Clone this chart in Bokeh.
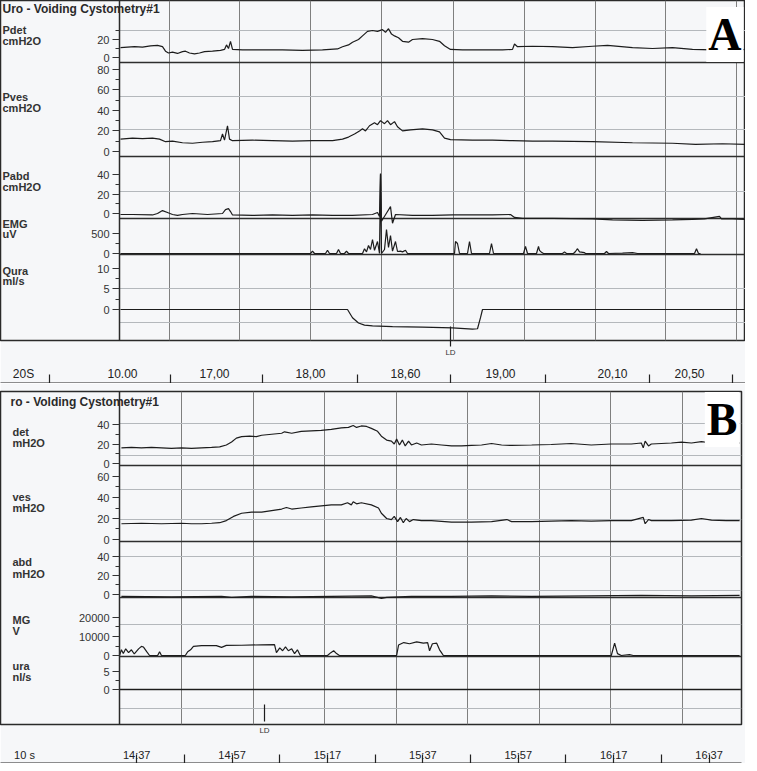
from bokeh.plotting import figure
from bokeh.models import Range1d, LinearAxis, FixedTicker, Label
from bokeh.layouts import column
from bokeh.embed import file_html
from bokeh.resources import INLINE

SANS = "Liberation Sans"
SERIF = "Liberation Serif"
BG = "#f6f7f9"
INK = "#1c1c1c"

# ======================= Panel A data =======================
a_time_ticks = [0.6, 19.0, 38.2, 57.2, 76.2, 98.6, 114.0]
a_time_labels = ["10.00", "17,00", "18,00", "18,60", "19,00", "20,10", "20,50"]
a_bottom_marks = [10.2, 28.6, 47.6, 66.2, 85.2, 106.0, 122.6]
a_grid_times = [10.0, 24.0, 38.2, 52.4, 66.8, 81.0, 95.2, 109.2, 123.4]
a_ld_time = 66.2

a_pdet = [(0.2, 11), (1.6, 11.5), (3.0, 12), (4.6, 11.5), (6.2, 13), (7.6, 13.5), (8.6, 12), (9.2, 7),
          (9.8, 5), (10.6, 6), (11.6, 4.5), (12.6, 6.5), (13.2, 7), (14.0, 5), (15.0, 4), (16.0, 5),
          (17.0, 6.5), (18.6, 7), (20.2, 8), (21.0, 9), (21.4, 14), (21.8, 10), (22.2, 18), (22.6, 9),
          (24.6, 8.5), (28.6, 8.5), (32.6, 8.5), (36.6, 8), (40.6, 8.5), (43.6, 9.5), (44.6, 12),
          (45.8, 14), (46.6, 17), (47.8, 20), (48.6, 24), (49.6, 29), (50.6, 30), (51.6, 29), (52.6, 31),
          (53.2, 28), (53.8, 32), (54.4, 26), (55.0, 24), (55.8, 22), (56.6, 18), (57.8, 17), (58.6, 20),
          (60.6, 21), (62.6, 20), (64.0, 18), (65.0, 13), (66.2, 9), (68.6, 8.5), (72.6, 8.5), (76.6, 8.5),
          (78.6, 9), (79.0, 15), (79.6, 12), (82.6, 12.5), (86.6, 12), (90.6, 11), (94.6, 12.5), (97.6, 13.5),
          (102.6, 11), (106.6, 10), (110.6, 11), (114.6, 9), (118.6, 8.5), (122.6, 7.5), (125.2, 9)]

a_pves = [(0.2, 12), (2.6, 13), (4.6, 12.5), (6.6, 13), (8.0, 12), (9.2, 9.5), (10.6, 10), (12.6, 8.5),
          (14.6, 8), (16.6, 9), (18.6, 9.5), (20.2, 10.5), (20.6, 17), (21.0, 11), (21.6, 25), (22.0, 12),
          (22.6, 10.5), (26.6, 11), (30.6, 10.5), (34.6, 10), (38.6, 10.5), (42.6, 10.5), (44.6, 12),
          (45.8, 14), (47.0, 17), (48.0, 20), (48.6, 22), (49.2, 20), (50.0, 25), (51.0, 28), (51.6, 26),
          (52.2, 30), (53.0, 27), (53.6, 30), (54.2, 26), (55.0, 29), (55.6, 24), (56.6, 20), (58.2, 21),
          (60.6, 22), (62.6, 21), (64.0, 19), (65.0, 13), (66.2, 11.5), (70.6, 11), (74.6, 11), (78.6, 10.5),
          (82.6, 10), (86.6, 10), (94.6, 9.5), (102.6, 8.5), (110.6, 8), (115.2, 7), (120.6, 7.5), (125.2, 7)]

a_pabd = [(0.2, -1), (2.6, -1), (6.6, -1.5), (7.6, 0), (8.6, 3), (9.6, 1), (10.6, -1), (11.6, -2),
          (12.6, -1), (14.6, 0), (17.6, -1), (20.6, 0), (21.2, 4), (21.8, 5), (22.2, 2), (22.6, -1.5),
          (26.6, -2), (30.6, -1.5), (34.6, -2), (38.6, -1.5), (42.6, -2), (46.6, -2), (50.6, -1), (51.6, 1),
          (52.0, -3), (52.2, 40), (52.4, -8), (53.6, 2), (54.2, 7), (54.6, -10), (55.2, -1), (58.6, -2),
          (62.6, -2), (66.6, -1.5), (70.6, -1.5), (74.6, -1.5), (78.2, -1), (79.0, -4), (80.6, -5),
          (86.6, -5), (94.6, -5.5), (98.6, -6.5), (104.6, -7), (110.6, -6.5), (114.6, -6), (117.0, -5.5),
          (120.0, -3), (120.4, -5.5), (122.6, -5.5), (125.2, -6)]

a_emg = [(0.2, 0), (38.2, 0), (38.6, 60), (39.0, 0), (41.2, 0), (41.6, 80), (42.0, 0), (43.4, 0),
         (43.8, 100), (44.2, 0), (45.0, 0), (45.4, 60), (45.8, 0), (48.6, 0), (49.0, 120), (49.4, 40),
         (49.8, 200), (50.2, 100), (50.6, 350), (51.0, 80), (51.6, 300), (52.0, 0), (52.2, 2000), (52.4, 0),
         (53.0, 100), (53.4, 600), (53.8, 150), (54.2, 450), (54.6, 60), (55.2, 300), (55.6, 50), (56.2, 60),
         (56.6, 40), (57.2, 80), (57.6, 0), (67.0, 0), (67.2, 300), (67.6, 250), (68.0, 0), (69.6, 0),
         (70.0, 300), (70.4, 0), (74.0, 0), (74.4, 250), (74.8, 0), (80.8, 0), (81.2, 180), (81.6, 0),
         (83.4, 0), (83.8, 180), (84.0, 80), (84.4, 30), (84.8, 0), (88.6, 0), (89.0, 40), (89.4, 0),
         (90.8, 0), (91.2, 50), (91.6, 120), (92.0, 40), (93.0, 20), (93.2, 0), (97.0, 0), (97.4, 50),
         (97.8, 0), (100.6, 10), (102.6, 20), (103.6, 0), (115.0, 0), (115.4, 120), (115.8, 0), (116.2, 0)]

a_qura = [(0.2, 0), (45.6, 0), (46.6, -2), (47.8, -3.3), (49.0, -3.8), (50.6, -4), (54.6, -4.2),
          (60.6, -4.3), (66.6, -4.5), (70.6, -4.8), (71.6, -4.7), (72.2, -2), (72.6, 0), (125.2, 0)]

# ======================= Panel B data =======================
b_time_ticks = [877, 897, 917, 937, 957, 977, 997]
b_time_labels = ["14:37", "14:57", "15:17", "15:37", "15:57", "16:17", "16:37"]
b_bottom_marks = [877, 887, 897, 907, 917, 927, 937, 947, 957, 967, 977, 987, 997]
b_grid_times = [886.4, 901.4, 916.4, 931.4, 946.4, 961.4, 976.4, 991.4]
b_ld_time = 903.8

b_pdet = [(873.8, 16), (875.9, 16.5), (878.0, 16), (880.1, 16.5), (882.2, 16), (884.3, 15.5), (886.4, 16),
          (888.5, 15.5), (890.6, 16), (892.7, 16.5), (894.4, 17), (895.8, 19), (896.9, 22), (897.9, 26),
          (899.0, 27.5), (900.7, 28), (902.1, 27.5), (903.2, 29), (905.3, 30), (907.4, 31), (908.0, 32.5),
          (909.5, 31), (911.5, 33), (913.6, 33.5), (915.7, 34), (917.8, 35), (919.9, 36.5), (921.4, 37),
          (922.4, 39), (923.1, 37), (924.1, 38.5), (925.2, 38), (926.2, 36), (927.5, 33), (928.3, 28),
          (929.4, 24), (930.4, 23), (931.0, 20), (931.5, 25), (932.1, 19), (932.7, 24), (933.3, 18),
          (934.0, 23), (934.6, 19), (935.7, 21), (936.7, 19), (938.8, 20), (940.9, 19), (943.0, 18),
          (945.1, 18), (947.2, 18.5), (949.3, 19), (951.4, 20.5), (953.5, 19), (955.6, 18.5), (959.8, 19),
          (963.9, 19.5), (968.1, 20.5), (972.3, 19), (976.5, 20), (980.7, 20), (982.8, 21), (983.2, 16),
          (983.6, 23), (984.3, 18), (984.9, 20), (989.1, 21), (991.2, 22), (993.3, 21), (995.4, 22.5),
          (997.5, 21), (1000.6, 20), (1003.4, 21)]

b_pves = [(873.8, 15), (878.0, 15.5), (882.2, 15), (886.4, 15.5), (888.5, 15), (890.6, 15), (892.7, 15.5),
          (894.4, 16), (895.8, 18), (897.3, 22), (899.0, 25), (901.1, 26), (903.2, 26), (905.3, 27.5),
          (907.4, 29), (908.4, 30.5), (909.5, 29), (911.5, 30), (913.6, 31), (915.7, 32), (917.8, 33),
          (919.9, 33), (921.2, 35), (922.0, 33), (922.4, 36), (923.1, 34), (924.1, 35), (926.2, 33),
          (927.7, 30), (928.3, 25), (929.4, 20), (930.4, 19), (931.0, 22), (931.7, 17), (932.3, 21),
          (932.9, 16), (933.5, 20), (934.2, 17), (935.0, 19), (936.7, 18), (938.8, 18), (943.0, 16.5),
          (947.2, 16.5), (951.4, 17), (954.6, 19), (955.6, 17), (959.8, 17), (963.9, 17.5), (968.1, 18),
          (972.3, 17.5), (976.5, 18), (980.7, 18), (983.2, 21), (983.6, 15), (984.3, 19), (984.9, 18),
          (989.1, 18), (993.3, 18.5), (995.4, 20), (997.5, 18.5), (1000.6, 18), (1003.4, 18)]

b_pabd = [(873.8, -2), (884.3, -2.5), (894.8, -2), (896.9, -3), (901.1, -2), (909.5, -2.5), (917.8, -2),
          (926.2, -1.5), (928.3, -4), (929.4, -3), (934.6, -2), (943.0, -2), (951.4, -1.5), (959.8, -2),
          (972.3, -1.5), (982.8, -1), (993.3, -1.5), (1003.4, -1)]

b_emg = [(873.4, 0), (873.8, 3000), (874.2, 1000), (874.7, 3500), (875.3, 1500), (875.9, 3000), (876.5, 800),
         (877.4, 3500), (878.0, 4800), (878.4, 4500), (879.1, 2000), (879.7, 0), (881.4, 0), (881.8, 2000),
         (882.2, 0), (887.2, 0), (887.7, 2000), (888.3, 3000), (888.9, 4800), (890.6, 5200), (893.7, 5200),
         (894.8, 4300), (895.8, 5300), (899.0, 5400), (903.2, 5600), (905.9, 5700), (906.3, 1500), (907.0, 4000),
         (907.6, 2500), (908.2, 4500), (908.8, 2500), (909.5, 3500), (910.1, 1000), (910.7, 3000), (911.3, 0),
         (917.0, 0), (917.7, 1500), (918.3, 2500), (918.9, 1000), (919.5, 0), (931.5, 0), (931.9, 5500),
         (933.0, 6800), (934.2, 6200), (935.7, 7200), (937.1, 6500), (938.0, 6800), (938.4, 2500), (939.0, 6200),
         (939.9, 6500), (940.5, 3000), (940.9, 1500), (941.3, 0), (976.5, 0), (977.2, 6500), (977.8, 1000),
         (978.6, 0), (980.3, 500), (981.1, 0), (1003.4, 0)]

b_qura = [(873.4, 0), (940.0, 0), (1003.4, 0)]

# channel scales: pixel row of value 0 and pixels per unit (layout calibration)
a_channels = [
    dict(name="Pdet", lines=["Pdet", "cmH2O"], ly=[43, 54], zero=71, ppu=0.9,
         major=[0, 20], minor=[10, 30], data=a_pdet),
    dict(name="Pves", lines=["Pves", "cmH2O"], ly=[110, 121], zero=165, ppu=1.03,
         major=[0, 20, 40, 60, 80], minor=[10, 30, 50, 70], data=a_pves),
    dict(name="Pabd", lines=["Pabd", "cmH2O"], ly=[189, 200], zero=227, ppu=0.975,
         major=[0, 20, 40], minor=[10, 30], data=a_pabd),
    dict(name="EMG", lines=["EMG", "uV"], ly=[237, 247], zero=267, ppu=0.04,
         major=[0, 500], minor=[250], data=a_emg),
    dict(name="Qura", lines=["Qura", "ml/s"], ly=[284, 294], zero=323, ppu=4.1,
         major=[0, 5, 10], minor=[2.5, 7.5], data=a_qura),
]

b_channels = [
    dict(name="Pdet", lines=["det", "mH2O"], ly=[445, 456], zero=477, ppu=0.975,
         major=[0, 20, 40], minor=[10, 30], data=b_pdet),
    dict(name="Pves", lines=["ves", "mH2O"], ly=[510, 521], zero=553, ppu=1.05,
         major=[0, 20, 40, 60], minor=[10, 30, 50], data=b_pves),
    dict(name="Pabd", lines=["abd", "mH2O"], ly=[575, 587], zero=608, ppu=0.95,
         major=[0, 20, 40], minor=[10, 30], data=b_pabd),
    dict(name="EMG", lines=["MG", "V"], ly=[633, 644], zero=669, ppu=0.0019,
         major=[0, 10000, 20000], minor=[5000, 15000], data=b_emg),
    dict(name="Qura", lines=["ura", "nl/s"], ly=[679, 690], zero=703, ppu=3.6,
         major=[0, 5], minor=[2.5], data=b_qura),
]


def build_panel(data_start, px_per_s, frame_w, top_px, bottom_px, channels, grid_times,
                light_rows, dark_rows, time_ticks, time_labels, bottom_marks, extra_mark_px,
                title, title_xy, letter, letter_y, unit_text, unit_px, ld_time, ld_rows,
                ld_out, border_top, border_right, label_px, time_standoff, tick_font):
    x_start = data_start - (127 - 8) / px_per_s
    x_end = x_start + frame_w / px_per_s

    def X(px):  # page-pixel column -> time coordinate (layout helper)
        return x_start + (px - 8) / px_per_s

    p = figure(x_range=Range1d(x_start, x_end), y_range=Range1d(bottom_px, top_px),
               frame_width=frame_w, frame_height=bottom_px - top_px,
               output_backend="svg", toolbar_location=None,
               min_border_left=0, min_border_right=border_right,
               min_border_top=border_top, min_border_bottom=0,
               background_fill_color=BG, border_fill_color=BG,
               outline_line_color="#2a2a2a", outline_line_width=1.5)

    # horizontal rule lines of the recorder paper
    nL, nD = len(light_rows), len(dark_rows)
    p.segment(x0=[data_start] * nL, y0=light_rows, x1=[x_end] * nL, y1=light_rows,
              line_color="#b4b8bc", line_width=1)
    p.segment(x0=[data_start] * nD, y0=dark_rows, x1=[x_end] * nD, y1=dark_rows,
              line_color="#2e2e2e", line_width=1.5)

    majors, minors, overrides = [], [], {}
    for ch in channels:
        z, k = ch["zero"], ch["ppu"]
        p.extra_y_ranges[ch["name"]] = Range1d((z - bottom_px) / k, (z - top_px) / k)
        for v in ch["major"]:
            px = int(round(z - v * k))
            majors.append(px)
            overrides[px] = f"{v:g}"
        for v in ch["minor"]:
            minors.append(int(round(z - v * k)))
        t, vals = zip(*ch["data"])
        p.line(list(t), list(vals), y_range_name=ch["name"], line_color=INK, line_width=1.2)
        for txt, yy in zip(ch["lines"], ch["ly"]):
            p.add_layout(Label(x=X(label_px), y=yy, text=txt, text_font=SANS,
                               text_font_size="11px", text_font_style="bold", text_color="#333333",
                               text_baseline="middle"))

    yax = p.yaxis[0]
    yax.fixed_location = data_start
    yax.ticker = FixedTicker(ticks=majors, minor_ticks=minors)
    yax.major_label_overrides = overrides
    yax.major_tick_out = 7
    yax.major_tick_in = 0
    yax.minor_tick_out = 4
    yax.minor_tick_in = 0
    yax.axis_line_color = "#2a2a2a"
    yax.axis_line_width = 1.5
    yax.major_tick_line_color = "#333333"
    yax.minor_tick_line_color = "#333333"
    yax.major_label_text_font = SANS
    yax.major_label_text_font_size = "11px"
    yax.major_label_text_color = "#333333"
    yax.major_label_standoff = 3

    # axis 1 (nearest the frame): the LD event marker
    ldax = p.xaxis[0]
    ldax.ticker = FixedTicker(ticks=[ld_time], minor_ticks=[])
    ldax.major_label_overrides = {ld_time: "LD"}
    ldax.axis_line_color = None
    ldax.major_tick_out = ld_out
    ldax.major_tick_in = 0
    ldax.major_tick_line_color = INK
    ldax.major_tick_line_width = 1.2
    ldax.minor_tick_line_color = None
    ldax.major_label_standoff = 1
    ldax.major_label_text_font = SANS
    ldax.major_label_text_font_size = "8px"
    ldax.major_label_text_color = "#333333"

    # axis 2: time labels
    tt = list(time_ticks) + [X(unit_px)]
    tl = list(time_labels) + [unit_text]
    tax = LinearAxis(ticker=FixedTicker(ticks=tt, minor_ticks=[]),
                     major_label_overrides=dict(zip(tt, tl)),
                     axis_line_color=None, major_tick_line_color=None, minor_tick_line_color=None,
                     major_label_standoff=time_standoff, major_label_text_font=SANS,
                     major_label_text_font_size=tick_font, major_label_text_color="#222222")
    p.add_layout(tax, "below")

    # axis 3: bottom rule with tick marks pointing up
    bm = list(bottom_marks) + [X(px) for px in extra_mark_px]
    ax3 = LinearAxis(ticker=FixedTicker(ticks=bm, minor_ticks=[]),
                     major_label_overrides={m: "" for m in bm},
                     major_label_text_font_size="0px", major_label_standoff=0,
                     major_tick_in=9, major_tick_out=0, minor_tick_in=0, minor_tick_out=0,
                     axis_line_color="#222222", axis_line_width=2,
                     major_tick_line_color="#222222", major_tick_line_width=1.2)
    p.add_layout(ax3, "below")

    p.xgrid.ticker = FixedTicker(ticks=grid_times)
    p.xgrid.grid_line_color = "#7f7f7f"
    p.xgrid.grid_line_width = 1
    p.ygrid.grid_line_color = None

    # LD marker line inside the frame
    p.segment(x0=[ld_time], y0=[ld_rows[0]], x1=[ld_time], y1=[ld_rows[1]],
              line_color=INK, line_width=1.2)

    p.add_layout(Label(x=X(title_xy[0]), y=title_xy[1], text=title, text_font=SANS,
                       text_font_size="12px", text_font_style="bold", text_color="#2a2a2a",
                       text_baseline="middle"))
    p.add_layout(Label(x=x_end, y=letter_y, x_offset=-2, text=letter, text_font=SERIF,
                       text_font_size="46px", text_font_style="bold", text_color="#000000",
                       text_align="right", text_baseline="alphabetic",
                       background_fill_color="#ffffff", padding=2))
    return p


pa = build_panel(0.0, 5.0, 745, 14, 354, a_channels, a_grid_times,
                 light_rows=[44, 110, 143, 205, 302, 336],
                 dark_rows=[76, 170, 232, 268],
                 time_ticks=a_time_ticks, time_labels=a_time_labels, bottom_marks=a_bottom_marks,
                 extra_mark_px=[57],
                 title="Uro - Voiding Cystometry#1", title_xy=(10, 22), letter="A", letter_y=48,
                 unit_text="20S", unit_px=31, ld_time=a_ld_time, ld_rows=(340, 354), ld_out=6,
                 border_top=0, border_right=0, label_px=10, time_standoff=1, tick_font="12px")

pb = build_panel(873.4, 4.77, 741, 405, 738, b_channels, b_grid_times,
                 light_rows=[437, 469, 503, 533, 570, 604, 638, 722],
                 dark_rows=[479, 555, 611, 670, 703],
                 time_ticks=b_time_ticks, time_labels=b_time_labels, bottom_marks=b_bottom_marks,
                 extra_mark_px=[],
                 title="ro - Volding Cystometry#1", title_xy=(18, 415), letter="B", letter_y=433,
                 unit_text="10 s", unit_px=32, ld_time=b_ld_time, ld_rows=(718, 735), ld_out=0,
                 border_top=8, border_right=4, label_px=20, time_standoff=5, tick_font="11px")

layout = column(pa, pb, spacing=0)
open("out.html", "w").write(file_html(layout, INLINE))
